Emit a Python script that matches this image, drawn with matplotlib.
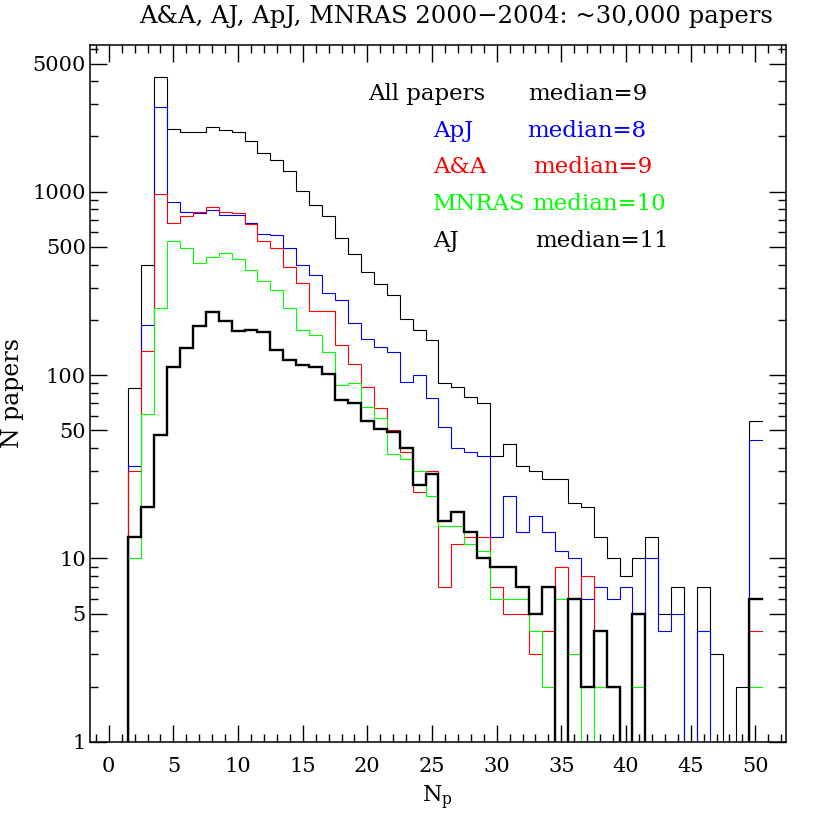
import numpy as np
import matplotlib
matplotlib.use("Agg")
import matplotlib.pyplot as plt
from matplotlib.ticker import LogLocator, FixedLocator, MultipleLocator, NullFormatter, FixedFormatter

# number of authors (bins centred on integers 2..50)
n_authors = np.arange(2, 51)

all_papers = [85, 398, 4207, 2184, 2129, 2129, 2259, 2173, 2103, 1893,
              1616, 1485, 1295, 1007, 849, 733, 561, 459, 365, 315,
              274, 203, 177, 156, 90, 86, 76, 70, 36, 42,
              32, 30, 27, 27, 20, 19, 13, 10, 8, 10,
              13, 5, 7, 0, 7, 3, 0, 2, 56]
apj = [32, 187, 2912, 877, 774, 762, 791, 746, 743, 677,
       590, 578, 495, 397, 353, 279, 257, 191, 157, 142,
       134, 92, 100, 75, 52, 40, 38, 36, 13, 22,
       14, 17, 14, 11, 10, 6, 7, 6, 7, 5,
       10, 4, 5, 0, 4, 0, 0, 0, 44]
aa = [30, 135, 974, 672, 737, 778, 824, 774, 762, 666,
      538, 496, 390, 319, 224, 224, 146, 115, 86, 66,
      50, 38, 23, 30, 7, 12, 13, 13, 7, 5,
      5, 3, 4, 9, 3, 8, 2, 2, 0, 0,
      0, 0, 0, 0, 0, 0, 0, 0, 4]
mnras = [10, 61, 233, 536, 493, 410, 441, 461, 428, 374,
         326, 290, 233, 176, 165, 134, 88, 90, 67, 58,
         37, 35, 30, 22, 15, 15, 12, 11, 6, 6,
         6, 4, 2, 6, 3, 0, 2, 2, 0, 2,
         0, 0, 0, 0, 0, 0, 0, 0, 2]
aj = [13, 19, 47, 110, 140, 184, 220, 196, 174, 176,
      172, 137, 121, 113, 111, 101, 73, 70, 56, 51,
      49, 40, 25, 29, 16, 18, 14, 10, 9, 9,
      7, 5, 7, 0, 6, 2, 4, 2, 0, 5,
      0, 0, 0, 0, 0, 0, 0, 0, 6]

legend_rows = [("All papers", "median=9", "black"),
               ("ApJ", "median=8", "blue"),
               ("A&A", "median=9", "red"),
               ("MNRAS", "median=10", "#00ff00"),
               ("AJ", "median=11", "black")]

plt.rcParams['font.family'] = ['DejaVu Serif']
plt.rcParams['mathtext.fontset'] = 'dejavuserif'

fig = plt.figure(figsize=(8.3, 8.3), dpi=100)
ax = fig.add_axes([90/830, 1-741.7/830, (785.7-90)/830, (741.7-45)/830])
ax.set_yscale('log')


def draw(vals, color, lw):
    vals = np.asarray(vals, dtype=float)
    edges = np.r_[n_authors - 0.5, n_authors[-1] + 0.5]
    xs = np.r_[edges[0], edges]
    ys = np.r_[0.0, vals, vals[-1]]
    ax.step(xs, ys, where='post', color=color, lw=lw, solid_joinstyle='miter')


draw(all_papers, 'black', 0.8)
draw(apj, 'blue', 0.8)
draw(aa, 'red', 0.8)
draw(mnras, '#00ff00', 0.8)
draw(aj, 'black', 1.7)

ax.set_xlim(-1.45, 52.35)
ax.set_ylim(1, 10**3.8)

ax.xaxis.set_major_locator(MultipleLocator(5))
ax.xaxis.set_minor_locator(MultipleLocator(1))
ax.yaxis.set_major_locator(FixedLocator([1, 5, 10, 50, 100, 500, 1000, 5000]))
ax.yaxis.set_major_formatter(FixedFormatter(['1', '5', '10', '50', '100', '500', '1000', '5000']))
ax.yaxis.set_minor_locator(LogLocator(base=10, subs=(2, 3, 4, 6, 7, 8, 9)))
ax.yaxis.set_minor_formatter(NullFormatter())

ax.tick_params(which='both', direction='in', top=True, right=True, width=1.0)
ax.tick_params(which='major', length=12.5, labelsize=15)
ax.tick_params(which='minor', length=6)
ax.tick_params(axis='x', which='major', pad=11)
ax.tick_params(axis='y', which='major', pad=3)
for s in ax.spines.values():
    s.set_linewidth(1.1)

ax.set_xlabel(r'N$_\mathregular{p}$', fontsize=16, labelpad=6)
ax.set_ylabel('N papers', fontsize=17, labelpad=6)

fig.text(0.549, 1 - 23/830, 'A&A, AJ, ApJ, MNRAS 2000\u22122004: ~30,000 papers',
         ha='center', va='baseline', fontsize=17.5)

name_x = [368, 433, 433, 433, 433]
med_x = [528, 527, 533, 532, 535]
base_y = [100, 137, 173, 210, 247]
for (name, med, col), nx, mx, by in zip(legend_rows, name_x, med_x, base_y):
    fig.text(nx/830, 1 - by/830, name, color=col, fontsize=16.5, ha='left', va='baseline')
    fig.text(mx/830, 1 - by/830, med, color=col, fontsize=16.5, ha='left', va='baseline')

fig.savefig('out.png', dpi=100)
